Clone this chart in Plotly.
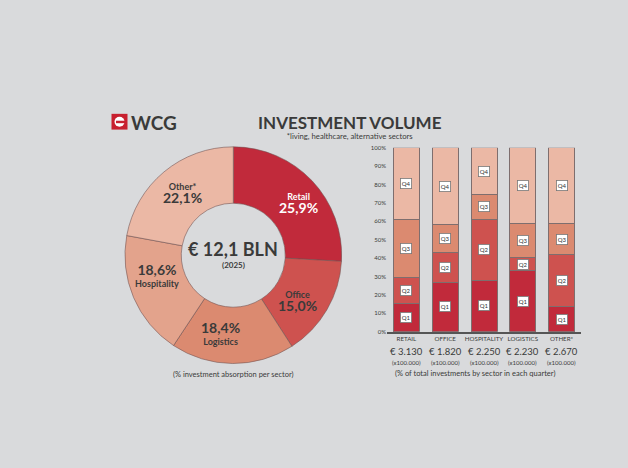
import math
import plotly.graph_objects as go

# ---------------- data ----------------
sectors = ["Retail", "Office", "Logistics", "Hospitality", "Other*"]
sector_share = [25.9, 15.0, 18.4, 18.6, 22.1]
sector_colors = ["#C12A3B", "#CE524F", "#DB8A70", "#E3A38C", "#EBB8A5"]
total_bln = "€ 12,1 BLN"
total_year = "(2025)"

bar_categories = ["RETAIL", "OFFICE", "HOSPITALITY", "LOGISTICS", "OTHER*"]
quarters = ["Q1", "Q2", "Q3", "Q4"]
q1 = [15.2, 27.0, 28.1, 33.2, 13.6]
q2 = [14.3, 16.1, 33.0, 7.2, 28.4]
q3 = [31.4, 15.1, 13.6, 18.2, 16.6]
q4 = [39.1, 41.8, 25.3, 41.4, 41.4]
quarter_values = [q1, q2, q3, q4]
quarter_colors = ["#C12A3B", "#CE524F", "#DB8A70", "#EBB8A5"]
sector_totals = [3130, 1820, 2250, 2230, 2670]
y_ticks = list(range(0, 101, 10))

W, H = 628, 468
BG = "#D9DADC"
TXT = "#3A3A3A"
FONT = "Lato"

def px_x(p):
    return p / W

def px_y(p):
    return (H - p) / H

def ann(**kw):
    d = dict(showarrow=False, xanchor="center", yanchor="middle")
    d.update(kw)
    return d

fig = go.Figure()

# ---------------- donut ----------------
cx, cy, R_out, hole = 233.3, 255.0, 110.0, 0.48
fig.add_trace(go.Pie(
    labels=sectors, values=sector_share, sort=False, direction="clockwise",
    rotation=0, hole=hole,
    marker=dict(colors=sector_colors, line=dict(color="rgba(110,80,80,0.7)", width=0.8)),
    textinfo="none", hoverinfo="label+percent", showlegend=False,
    domain=dict(x=[px_x(cx - R_out), px_x(cx + R_out)], y=[px_y(cy + R_out), px_y(cy - R_out)]),
))

# ---------------- stacked bars ----------------
x_idx = list(range(len(bar_categories)))
for qi, (qname, vals, col) in enumerate(zip(quarters, quarter_values, quarter_colors)):
    fig.add_trace(go.Bar(
        x=x_idx, y=vals, name=qname, width=0.67,
        marker=dict(color=col, line=dict(color="#7E6E6E", width=1)),
        showlegend=False, xaxis="x", yaxis="y",
    ))

annotations = []

# quarter labels in segments
for ci in x_idx:
    base = 0.0
    for qi, vals in enumerate(quarter_values):
        mid = base + vals[ci] / 2
        base += vals[ci]
        annotations.append(ann(
            x=ci, y=mid, xref="x", yref="y", text=quarters[qi],
            font=dict(family=FONT, size=6, color="#333333"),
            bgcolor="white", bordercolor="#777777", borderwidth=0.8, borderpad=1,
        ))

# totals below bars
for ci, tot in zip(x_idx, sector_totals):
    s = f"{tot:,}".replace(",", ".")
    annotations.append(ann(x=ci, y=px_y(352.7), xref="x", yref="paper", text=f"€ {s}",
                           font=dict(family=FONT, size=9.5, color=TXT)))
    annotations.append(ann(x=ci, y=px_y(363.5), xref="x", yref="paper", text="(x100.000)",
                           font=dict(family=FONT, size=6, color=TXT)))

annotations.append(ann(x=px_x(475), y=px_y(375.5), xref="paper", yref="paper",
                       text="(% of total investments by sector in each quarter)",
                       font=dict(family=FONT, size=7.5, color=TXT)))

# donut labels (positioned at slice mid-angle, with small layout nudges in px)
label_nudge = {"Retail": (5, 3), "Office": (-7, 4.5), "Logistics": (-12, -1.5),
               "Hospitality": (0, -10), "Other*": (2, 0)}
name_first = {"Retail": True, "Office": True, "Other*": True, "Logistics": False, "Hospitality": False}
r_lab = (R_out * hole + R_out) / 2 + 1
cum = 0.0
for name, v in zip(sectors, sector_share):
    mid = cum + v / 2
    cum += v
    ang = math.radians(90 - mid * 3.6)
    nx, ny = label_nudge[name]
    lx = cx + r_lab * math.cos(ang) + nx
    ly = cy - r_lab * math.sin(ang) + ny
    color = "white" if name == "Retail" else TXT
    pct = f"{v:.1f}".replace(".", ",") + "%"
    big = f"<span style='font-size:14px'><b>{pct}</b></span>"
    small = f"<span style='font-size:9px'><b>{name}</b></span>"
    if name_first[name]:
        txt = f"{small}<br>{big}"
        yy, base_size = ly + 1.2, 10.3
    else:
        txt = f"{big}<br>{small}"
        yy, base_size = ly - 1.8, 9
    annotations.append(ann(x=px_x(lx), y=px_y(yy), xref="paper", yref="paper",
                           text=txt, font=dict(family=FONT, size=base_size, color=color)))

# donut center
annotations.append(ann(x=px_x(cx), y=px_y(248.5), xref="paper", yref="paper",
                       text=f"<b>{total_bln}</b>",
                       font=dict(family=FONT, size=18, color=TXT)))
annotations.append(ann(x=px_x(cx), y=px_y(264.5), xref="paper", yref="paper",
                       text=f"<b>{total_year}</b>",
                       font=dict(family=FONT, size=8, color=TXT)))
annotations.append(ann(x=px_x(cx), y=px_y(376), xref="paper", yref="paper",
                       text="(% investment absorption per sector)",
                       font=dict(family=FONT, size=7.5, color=TXT)))

# title + subtitle
annotations.append(ann(x=px_x(350), y=px_y(124), xref="paper", yref="paper",
                       text="<span style='font-size:17px'><b>INVESTMENT VOLUME</b></span><br>"
                            "*living, healthcare, alternative sectors",
                       font=dict(family=FONT, size=7.7, color=TXT)))
# logo text
annotations.append(ann(x=px_x(129), y=px_y(120), xref="paper", yref="paper", xanchor="left",
                       text="<b>WCG</b>",
                       font=dict(family=FONT, size=19, color=TXT)))

shapes = [
    dict(type="rect", xref="paper", yref="paper", x0=px_x(111.5), x1=px_x(127.5),
         y0=px_y(127.5), y1=px_y(111.5), fillcolor="#C8202F", line=dict(width=0)),
    dict(type="circle", xref="paper", yref="paper", x0=px_x(114.5), x1=px_x(124.5),
         y0=px_y(124.5), y1=px_y(114.5), fillcolor="white", line=dict(width=0)),
    dict(type="rect", xref="paper", yref="paper", x0=px_x(116), x1=px_x(125),
         y0=px_y(121), y1=px_y(118.5), fillcolor="#C8202F", line=dict(width=0)),
]

fig.update_layout(
    width=W, height=H, autosize=False,
    margin=dict(l=0, r=0, t=0, b=0),
    paper_bgcolor=BG, plot_bgcolor=BG,
    barmode="stack", bargap=0.33,
    font=dict(family=FONT, color=TXT),
    xaxis=dict(domain=[px_x(387), px_x(581)], anchor="y", range=[-0.5, 4.5],
               tickmode="array", tickvals=x_idx, ticktext=bar_categories, tickangle=0,
               tickfont=dict(family=FONT, size=6.2, color=TXT), ticks="",
               showline=True, linecolor="#555555", linewidth=1.5,
               showgrid=False, zeroline=False, fixedrange=True),
    yaxis=dict(domain=[px_y(332.7), px_y(146)], anchor="x", range=[0, 100],
               tickmode="array", tickvals=y_ticks, ticktext=[f"{t}%" for t in y_ticks],
               tickfont=dict(family=FONT, size=6, color=TXT), ticks="",
               showline=False, showgrid=False, zeroline=False, fixedrange=True),
    annotations=annotations,
    shapes=shapes,
)

fig.write_html("out.html", config={"displayModeBar": False},
               post_script="document.body.style.margin='0';")
